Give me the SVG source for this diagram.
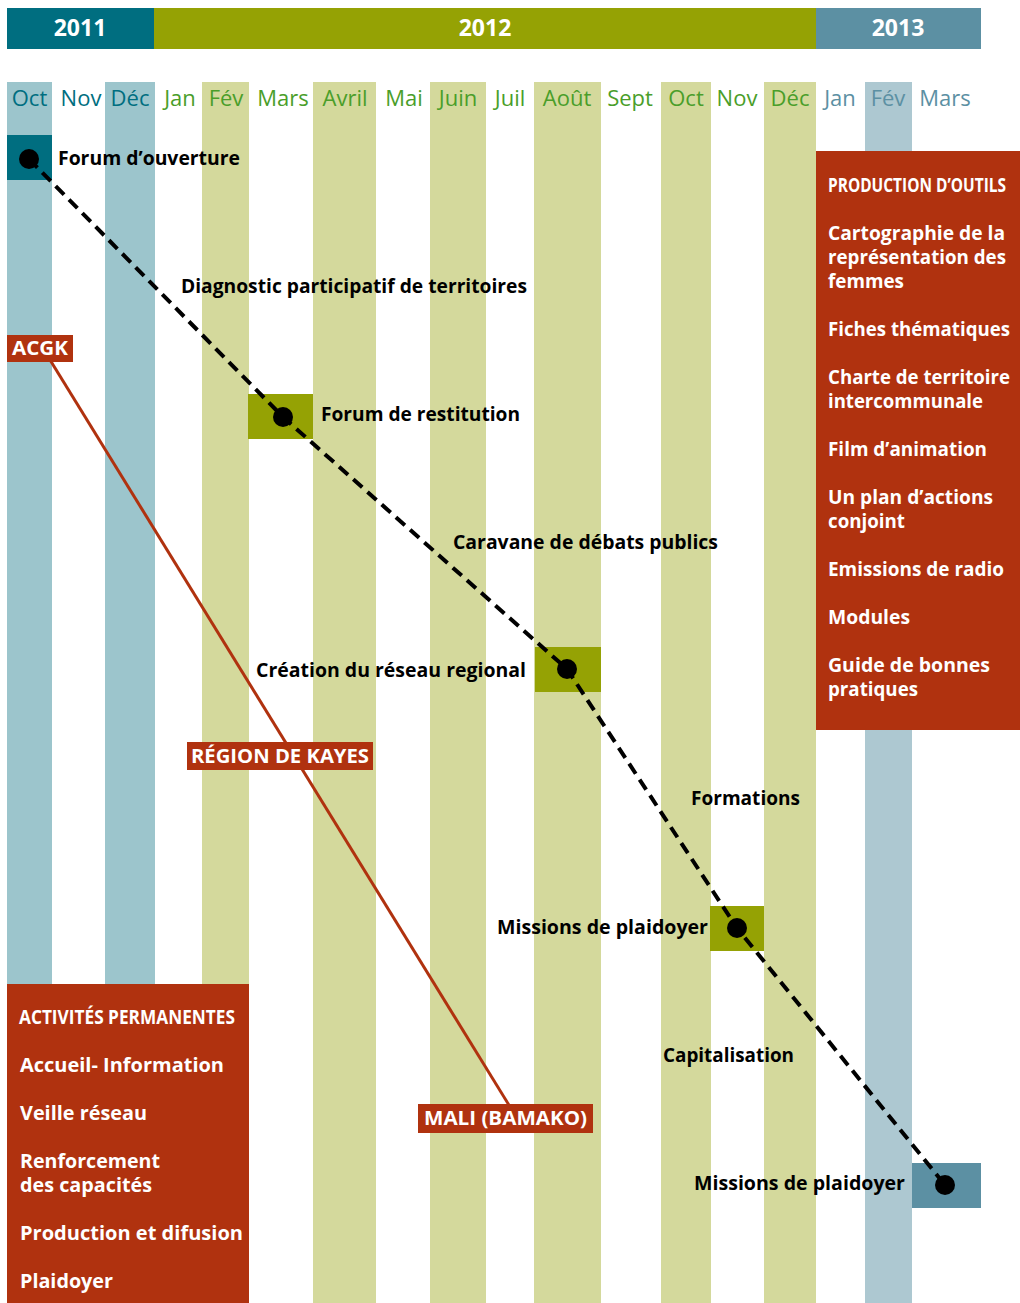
<svg xmlns="http://www.w3.org/2000/svg" width="1020" height="1303" viewBox="0 0 1020 1303">
<defs>
<style>
.yr{font-family:"Open Sans","Liberation Sans",sans-serif;font-weight:700;font-size:23px;fill:#fff;text-anchor:middle}
.mo{font-family:"Open Sans","Liberation Sans",sans-serif;font-size:22px;text-anchor:middle}
.m11{fill:#006e80}.m12{fill:#4a9e2a}.m13{fill:#5c90a3}
.s11{fill:#9cc5cc}.s12{fill:#d4d99c}.s13{fill:#adc8d1}
.lbl{font-family:"Open Sans","Liberation Sans",sans-serif;font-weight:700;font-size:19px;fill:#000}
.wt{font-family:"Open Sans","Liberation Sans",sans-serif;font-weight:700;font-size:19px;fill:#fff}
.hd{font-family:"Open Sans","Liberation Sans",sans-serif;font-weight:700;font-size:19px;fill:#fff}
.red{fill:#b0320f}
.dot{fill:#000}
</style>
</defs>
<rect width="1020" height="1303" fill="#fff"/>
<g id="years">
<rect x="7" y="8" width="147" height="41" fill="#006e80"/>
<rect x="154" y="8" width="662" height="41" fill="#95a204"/>
<rect x="816" y="8" width="165" height="41" fill="#5c90a3"/>
<text class="yr" x="80" y="36">2011</text>
<text class="yr" x="485" y="36">2012</text>
<text class="yr" x="898" y="36">2013</text>
</g>
<g id="stripes">
<rect class="s11" x="7" y="82" width="45" height="1221"/>
<rect class="s11" x="105" y="82" width="50" height="1221"/>
<rect class="s12" x="202" y="82" width="47" height="1221"/>
<rect class="s12" x="313" y="82" width="63" height="1221"/>
<rect class="s12" x="430" y="82" width="56" height="1221"/>
<rect class="s12" x="534" y="82" width="67" height="1221"/>
<rect class="s12" x="661" y="82" width="50" height="1221"/>
<rect class="s12" x="764" y="82" width="52" height="1221"/>
<rect class="s13" x="865" y="82" width="47" height="1221"/>
</g>
<g id="months">
<text class="mo m11" x="29.5" y="106">Oct</text>
<text class="mo m11" x="81" y="106">Nov</text>
<text class="mo m11" x="130" y="106">Déc</text>
<text class="mo m12" x="180" y="106">Jan</text>
<text class="mo m12" x="226" y="106">Fév</text>
<text class="mo m12" x="283" y="106">Mars</text>
<text class="mo m12" x="345" y="106">Avril</text>
<text class="mo m12" x="404" y="106">Mai</text>
<text class="mo m12" x="458" y="106">Juin</text>
<text class="mo m12" x="510" y="106">Juil</text>
<text class="mo m12" x="567" y="106">Août</text>
<text class="mo m12" x="630" y="106">Sept</text>
<text class="mo m12" x="686" y="106">Oct</text>
<text class="mo m12" x="737" y="106">Nov</text>
<text class="mo m12" x="790" y="106">Déc</text>
<text class="mo m13" x="840" y="106">Jan</text>
<text class="mo m13" x="888" y="106">Fév</text>
<text class="mo m13" x="945" y="106">Mars</text>
</g>
<g id="milestone-squares">
<rect x="7" y="135" width="45" height="45" fill="#006e80"/>
<rect x="248" y="394" width="65" height="45" fill="#95a204"/>
<rect x="535" y="647" width="66" height="45" fill="#95a204"/>
<rect x="710" y="906" width="54" height="45" fill="#95a204"/>
<rect x="912" y="1163" width="69" height="45" fill="#5c90a3"/>
</g>
<g id="connectors">
<polyline points="29,159 283,417 567,669 737,928 945,1185" fill="none" stroke="#000" stroke-width="4" stroke-dasharray="12 7"/>
<line x1="47" y1="355" x2="512" y2="1110" stroke="#b0320f" stroke-width="3"/>
</g>
<g id="dots">
<circle class="dot" cx="29" cy="159" r="10"/>
<circle class="dot" cx="283" cy="417" r="10"/>
<circle class="dot" cx="567" cy="669" r="10"/>
<circle class="dot" cx="737" cy="928" r="10"/>
<circle class="dot" cx="945" cy="1185" r="10"/>
</g>
<g id="labels">
<text class="lbl" x="58" y="165" textLength="182" lengthAdjust="spacingAndGlyphs">Forum d’ouverture</text>
<text class="lbl" x="181" y="293" textLength="346" lengthAdjust="spacingAndGlyphs">Diagnostic participatif de territoires</text>
<text class="lbl" x="321" y="421" textLength="199" lengthAdjust="spacingAndGlyphs">Forum de restitution</text>
<text class="lbl" x="453" y="549" textLength="265" lengthAdjust="spacingAndGlyphs">Caravane de débats publics</text>
<text class="lbl" x="256" y="677" textLength="270" lengthAdjust="spacingAndGlyphs">Création du réseau regional</text>
<text class="lbl" x="691" y="805" textLength="109" lengthAdjust="spacingAndGlyphs">Formations</text>
<text class="lbl" x="497" y="934" textLength="211" lengthAdjust="spacingAndGlyphs">Missions de plaidoyer</text>
<text class="lbl" x="663" y="1062" textLength="131" lengthAdjust="spacingAndGlyphs">Capitalisation</text>
<text class="lbl" x="694" y="1190" textLength="211" lengthAdjust="spacingAndGlyphs">Missions de plaidoyer</text>
</g>
<g id="acgk">
<rect class="red" x="7" y="335" width="66" height="27"/>
<text class="wt" x="12" y="355" textLength="56" lengthAdjust="spacingAndGlyphs">ACGK</text>
</g>
<g id="region-kayes">
<rect class="red" x="187" y="742" width="186" height="28"/>
<text class="wt" x="191" y="763" textLength="178" lengthAdjust="spacingAndGlyphs">RÉGION DE KAYES</text>
</g>
<g id="mali-bamako">
<rect class="red" x="418" y="1104" width="175" height="29"/>
<text class="wt" x="424" y="1125" textLength="163" lengthAdjust="spacingAndGlyphs">MALI (BAMAKO)</text>
</g>
<g id="production-outils">
<rect class="red" x="816" y="151" width="204" height="579"/>
<text class="hd" x="828" y="192" textLength="178" lengthAdjust="spacingAndGlyphs">PRODUCTION D’OUTILS</text>
<text class="wt" x="828" y="240" textLength="177" lengthAdjust="spacingAndGlyphs">Cartographie de la</text>
<text class="wt" x="828" y="264" textLength="178" lengthAdjust="spacingAndGlyphs">représentation des</text>
<text class="wt" x="828" y="288" textLength="76" lengthAdjust="spacingAndGlyphs">femmes</text>
<text class="wt" x="828" y="336" textLength="182" lengthAdjust="spacingAndGlyphs">Fiches thématiques</text>
<text class="wt" x="828" y="384" textLength="182" lengthAdjust="spacingAndGlyphs">Charte de territoire</text>
<text class="wt" x="828" y="408" textLength="155" lengthAdjust="spacingAndGlyphs">intercommunale</text>
<text class="wt" x="828" y="456" textLength="159" lengthAdjust="spacingAndGlyphs">Film d’animation</text>
<text class="wt" x="828" y="504" textLength="165" lengthAdjust="spacingAndGlyphs">Un plan d’actions</text>
<text class="wt" x="828" y="528" textLength="77" lengthAdjust="spacingAndGlyphs">conjoint</text>
<text class="wt" x="828" y="576" textLength="176" lengthAdjust="spacingAndGlyphs">Emissions de radio</text>
<text class="wt" x="828" y="624" textLength="82" lengthAdjust="spacingAndGlyphs">Modules</text>
<text class="wt" x="828" y="672" textLength="162" lengthAdjust="spacingAndGlyphs">Guide de bonnes</text>
<text class="wt" x="828" y="696" textLength="90" lengthAdjust="spacingAndGlyphs">pratiques</text>
</g>
<g id="activites-permanentes">
<rect class="red" x="7" y="984" width="242" height="319"/>
<text class="hd" x="19" y="1024" textLength="216" lengthAdjust="spacingAndGlyphs">ACTIVITÉS PERMANENTES</text>
<text class="wt" x="20" y="1072" textLength="204" lengthAdjust="spacingAndGlyphs">Accueil- Information</text>
<text class="wt" x="20" y="1120" textLength="127" lengthAdjust="spacingAndGlyphs">Veille réseau</text>
<text class="wt" x="20" y="1168" textLength="140" lengthAdjust="spacingAndGlyphs">Renforcement</text>
<text class="wt" x="20" y="1192" textLength="132" lengthAdjust="spacingAndGlyphs">des capacités</text>
<text class="wt" x="20" y="1240" textLength="223" lengthAdjust="spacingAndGlyphs">Production et difusion</text>
<text class="wt" x="20" y="1288" textLength="93" lengthAdjust="spacingAndGlyphs">Plaidoyer</text>
</g>
</svg>
